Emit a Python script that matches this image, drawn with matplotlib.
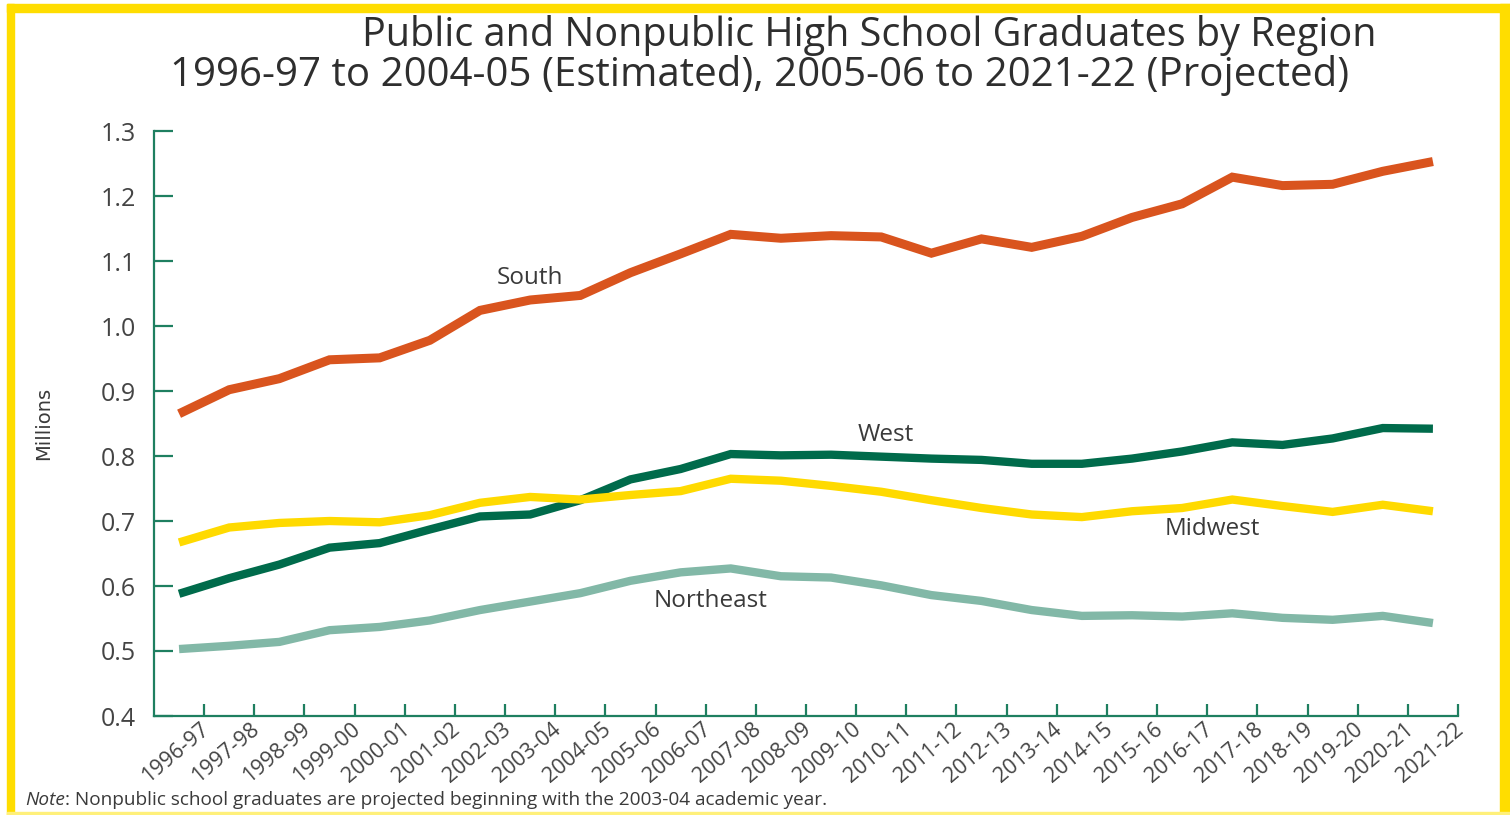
import matplotlib
matplotlib.use("Agg")
import matplotlib.pyplot as plt
from matplotlib.patches import Rectangle
from matplotlib.transforms import ScaledTranslation
import numpy as np

plt.rcParams["font.family"] = ["Open Sans", "DejaVu Sans"]

years = [
    "1996-97", "1997-98", "1998-99", "1999-00", "2000-01", "2001-02", "2002-03",
    "2003-04", "2004-05", "2005-06", "2006-07", "2007-08", "2008-09", "2009-10",
    "2010-11", "2011-12", "2012-13", "2013-14", "2014-15", "2015-16", "2016-17",
    "2017-18", "2018-19", "2019-20", "2020-21", "2021-22",
]

# graduates, millions
south = [0.865, 0.902, 0.919, 0.948, 0.951, 0.978, 1.024, 1.040, 1.047, 1.082,
         1.111, 1.141, 1.135, 1.139, 1.137, 1.112, 1.134, 1.121, 1.138, 1.167,
         1.188, 1.229, 1.216, 1.218, 1.238, 1.253]
west = [0.588, 0.612, 0.633, 0.659, 0.666, 0.687, 0.707, 0.710, 0.732, 0.764,
        0.780, 0.803, 0.801, 0.802, 0.799, 0.796, 0.794, 0.788, 0.788, 0.796,
        0.807, 0.821, 0.817, 0.827, 0.843, 0.842]
midwest = [0.667, 0.690, 0.697, 0.700, 0.698, 0.709, 0.728, 0.737, 0.733, 0.740,
           0.746, 0.765, 0.762, 0.754, 0.745, 0.732, 0.720, 0.710, 0.706, 0.715,
           0.720, 0.733, 0.723, 0.714, 0.725, 0.715]
northeast = [0.503, 0.508, 0.514, 0.532, 0.537, 0.547, 0.563, 0.576, 0.589, 0.608,
             0.621, 0.627, 0.615, 0.613, 0.601, 0.586, 0.577, 0.563, 0.554, 0.555,
             0.553, 0.558, 0.551, 0.548, 0.554, 0.543]

regions = ["South", "West", "Midwest", "Northeast"]
colors = ["#D9541E", "#006B4B", "#FFDA00", "#82B8A7"]
widths = [6.5, 6.0, 6.0, 6.0]
# where each region name sits (category index, value)
label_pos = [(7.0, 1.074), (14.1, 0.833), (20.6, 0.688), (10.6, 0.577)]

AXIS = "#1E7F60"
TEXT = "#3A3A3A"

fig = plt.figure(figsize=(15.1, 8.15), dpi=100)
ax = fig.add_axes([154 / 1510, 1 - 716 / 815, (1458 - 154) / 1510, (716 - 131) / 815])

x = np.arange(len(years))
for series, name, color, lw in zip([south, west, midwest, northeast], regions, colors, widths):
    ax.plot(x, series, color=color, lw=lw, solid_joinstyle="miter", solid_capstyle="butt", zorder=3)

for name, (px, py) in zip(regions, label_pos):
    ax.text(px, py, name, ha="center", va="center", fontsize=17.5, color=TEXT)

ax.set_xlim(-0.5, len(years) - 0.5)
ax.set_ylim(0.4, 1.3)
ax.set_yticks(np.arange(0.4, 1.31, 0.1))
ax.set_yticklabels([f"{v:.1f}" for v in np.arange(0.4, 1.31, 0.1)])
ax.set_xticks(x + 0.5, labels=years)

for side in ["top", "right"]:
    ax.spines[side].set_visible(False)
for side in ["left", "bottom"]:
    ax.spines[side].set_color(AXIS)
    ax.spines[side].set_linewidth(1.6)

ax.tick_params(axis="y", direction="in", length=14, width=1.6, color=AXIS,
               labelsize=18, labelcolor="#444444", pad=13)
ax.tick_params(axis="x", direction="in", length=9, width=1.6, color=AXIS,
               labelsize=15.5, labelcolor="#444444", pad=2)
shift = ScaledTranslation(-4 / 100, 0, fig.dpi_scale_trans)
for lbl in ax.get_xticklabels():
    lbl.set_rotation(40)
    lbl.set_ha("right")
    lbl.set_rotation_mode("anchor")
    lbl.set_transform(lbl.get_transform() + shift)

ax.set_ylabel("Millions", fontsize=14, color=TEXT,
              family=["Liberation Sans Narrow", "DejaVu Sans"], labelpad=34)

fig.text(869 / 1510, 1 - 35 / 815, "Public and Nonpublic High School Graduates by Region",
         ha="center", va="center", fontsize=28.5, color="#2E2E2E")
fig.text(760 / 1510, 1 - 75 / 815,
         "1996-97 to 2004-05 (Estimated), 2005-06 to 2021-22 (Projected)",
         ha="center", va="center", fontsize=29, color="#2E2E2E")

note = fig.text(25 / 1510, 1 - 800 / 815, "Note", style="italic", fontsize=13.7,
                color=TEXT, va="center")
ax.annotate(": Nonpublic school graduates are projected beginning with the 2003-04 academic year.",
            xy=(1, 0.5), xycoords=note, va="center", ha="left",
            fontsize=13.7, color=TEXT, annotation_clip=False)

# yellow frame
frame = "#FFDD00"
fig.patches.extend([
    Rectangle((7 / 1510, 0), 7 / 1510, 1 - 4 / 815, transform=fig.transFigure, color=frame, zorder=10),
    Rectangle((7 / 1510, 1 - 12 / 815), 1 - 7 / 1510, 8 / 815, transform=fig.transFigure, color=frame, zorder=10),
    Rectangle((1500 / 1510, 0), 10 / 1510, 1 - 4 / 815, transform=fig.transFigure, color=frame, zorder=10),
    Rectangle((7 / 1510, 0), 1 - 7 / 1510, 3 / 815, transform=fig.transFigure, color="#FFF07A", zorder=10),
])

fig.savefig("out.png", dpi=100)
